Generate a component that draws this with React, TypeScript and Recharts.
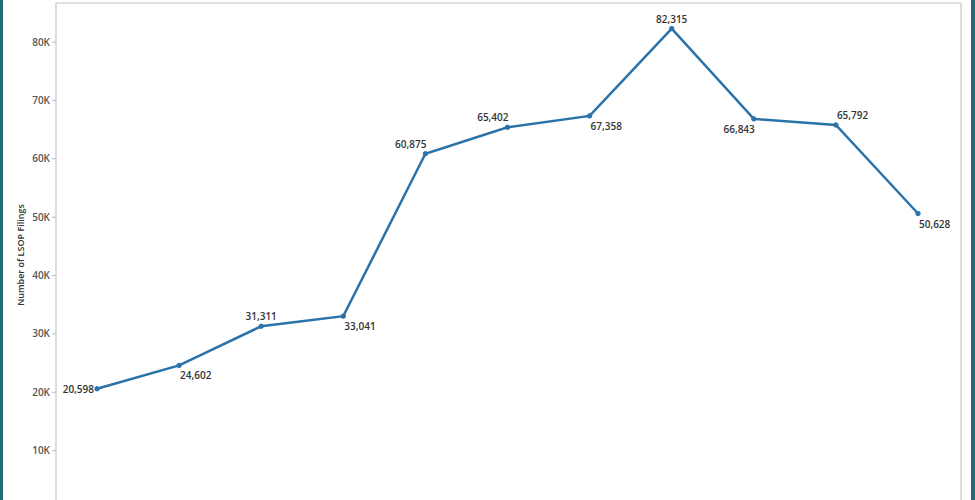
import React from 'react';
import { LineChart, Line, XAxis, YAxis, ReferenceLine, LabelList } from 'recharts';

const years = ['2009', '2010', '2011', '2012', '2013', '2014', '2015', '2016', '2017', '2018', '2019'];
const filings = [20598, 24602, 31311, 33041, 60875, 65402, 67358, 82315, 66843, 65792, 50628];
const yTicks = [0, 10000, 20000, 30000, 40000, 50000, 60000, 70000, 80000];
// where each value label sits relative to its point
const labelSpots = ['left', 'below-right', 'above', 'below-right', 'above-left', 'above-left', 'below-right', 'above', 'below-left', 'above-right', 'below-right'];

const chartData = years.map((year, i) => ({ year, filings: filings[i] }));

const fmtK = (v: number) => `${Math.round(v / 1000)}K`;

const ValueLabel = (props: any) => {
  const { x, y, value, index } = props;
  const spot = labelSpots[index];
  let tx = x;
  let ty = y + 4;
  let anchor: 'start' | 'middle' | 'end' = 'middle';
  if (spot === 'left') { tx = x - 3; anchor = 'end'; }
  if (spot === 'above') { ty = y - 6; }
  if (spot === 'below-right') { tx = x + 1; ty = y + 14; anchor = 'start'; }
  if (spot === 'below-left') { tx = x + 1; ty = y + 14; anchor = 'end'; }
  if (spot === 'above-left') { tx = x + 1; ty = y - 6; anchor = 'end'; }
  if (spot === 'above-right') { tx = x + 1; ty = y - 6; anchor = 'start'; }
  return (
    <text x={tx} y={ty} textAnchor={anchor} fontSize={10} fill="#333" fontFamily="Open Sans" fontWeight={600}>
      {Number(value).toLocaleString('en-US')}
    </text>
  );
};

export default function App() {
  return (
    <div style={{ position: 'fixed', top: 0, left: 0, width: 975, height: 500, overflow: 'hidden', background: '#fff' }}>
      <div style={{ position: 'absolute', left: 0, top: 0, width: 3, height: 500, background: '#1f6b78' }} />
      <div style={{ position: 'absolute', right: 0, top: 0, width: 4, height: 500, background: '#1f6b78' }} />
      <div
        style={{
          position: 'absolute', left: 12, top: 255, transform: 'translate(-50%, -50%) rotate(-90deg)', whiteSpace: 'nowrap',
          fontFamily: 'Open Sans', fontSize: 9, fontWeight: 600, color: '#333', marginLeft: 8,
        }}
      >
        Number of LSOP Filings
      </div>
      <div style={{ position: 'absolute', left: 0, top: 0 }}>
        <LineChart width={975} height={520} data={chartData} margin={{ top: 3, right: 13, bottom: 11, left: 16 }}>
          <XAxis dataKey="year" hide padding={{ left: 41, right: 43 }} />
          <YAxis
            domain={[0, 86700]}
            ticks={yTicks}
            tickFormatter={fmtK}
            width={40}
            axisLine={{ stroke: '#d0d0d0', strokeWidth: 1.5 }}
            tickLine={{ stroke: '#bbb' }}
            tickSize={4}
            tick={{ fontSize: 10, fill: '#555', fontFamily: 'Open Sans', fontWeight: 600 }}
          />
          <YAxis yAxisId="r" orientation="right" domain={[0, 86700]} tick={false} tickLine={false} width={1} axisLine={{ stroke: '#d0d0d0', strokeWidth: 1.5 }} />
          <ReferenceLine y={86700} stroke="#d9d9d9" strokeWidth={1.5} />
          <Line
            type="linear"
            dataKey="filings"
            stroke="#2b72a9"
            strokeWidth={2.5}
            dot={{ r: 2.2, fill: '#2b72a9', stroke: '#2b72a9', strokeWidth: 1 }}
            isAnimationActive={false}
          >
            <LabelList dataKey="filings" content={ValueLabel} />
          </Line>
        </LineChart>
      </div>
    </div>
  );
}
